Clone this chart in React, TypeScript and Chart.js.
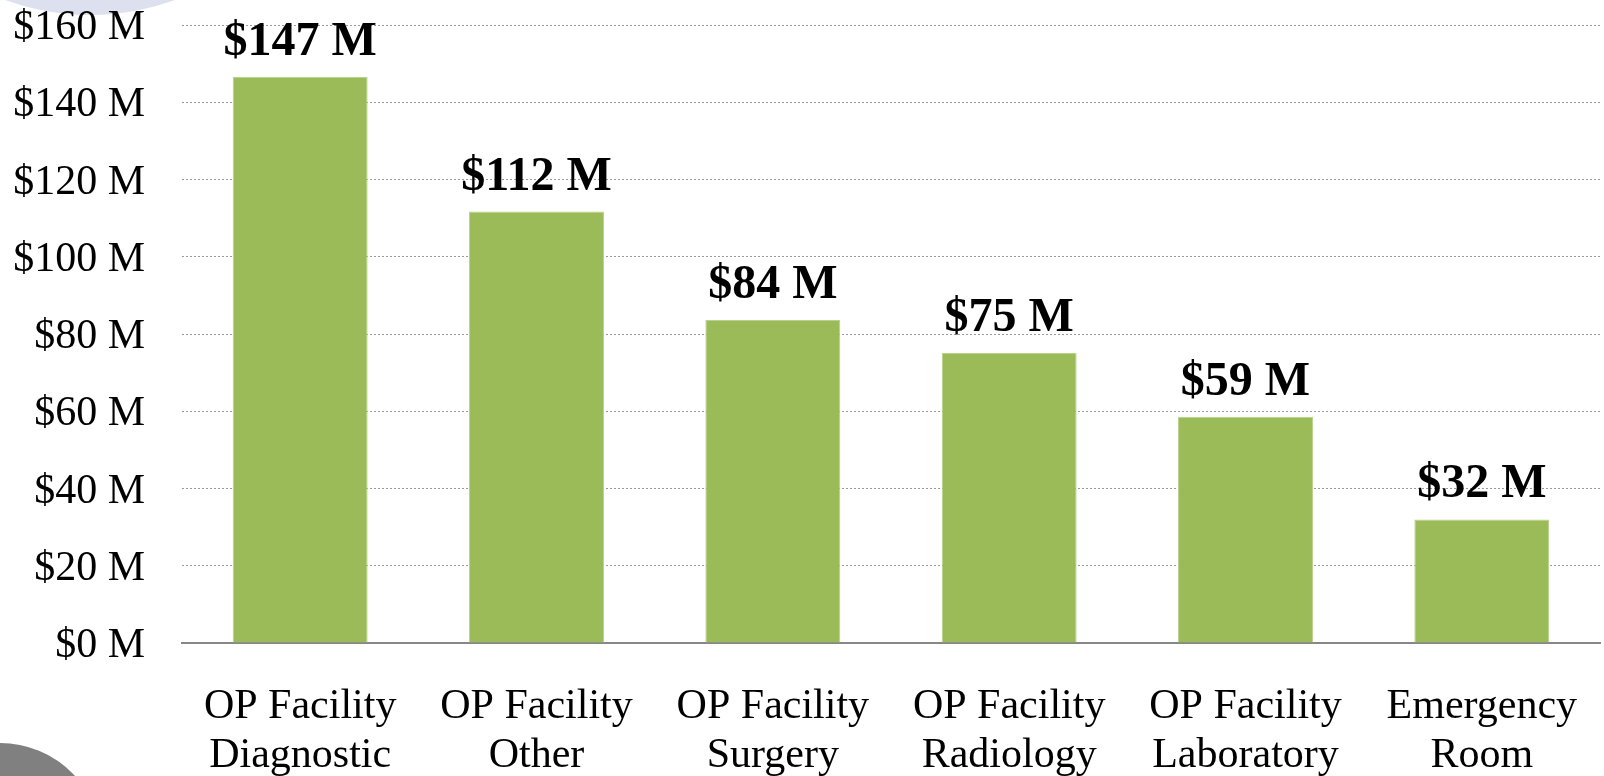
import React, { useEffect, useRef } from "react";
import { Chart, registerables } from "chart.js";

Chart.register(...registerables);

const categories: string[][] = [
  ["OP Facility", "Diagnostic"],
  ["OP Facility", "Other"],
  ["OP Facility", "Surgery"],
  ["OP Facility", "Radiology"],
  ["OP Facility", "Laboratory"],
  ["Emergency", "Room"],
];
const costValues: number[] = [146.6, 111.7, 83.6, 75.1, 58.6, 32.0];
const costLabels: string[] = ["$147 M", "$112 M", "$84 M", "$75 M", "$59 M", "$32 M"];
const yTickMax = 160;
const yTickStep = 20;

const SERIF = '"Liberation Serif", "Times New Roman", serif';

const valueLabelPlugin = {
  id: "valueLabels",
  afterDatasetsDraw(chart: any) {
    const ctx = chart.ctx;
    const meta = chart.getDatasetMeta(0);
    ctx.save();
    ctx.font = `bold 48px ${SERIF}`;
    ctx.fillStyle = "#000000";
    ctx.textAlign = "center";
    ctx.textBaseline = "alphabetic";
    meta.data.forEach((el: any, i: number) => {
      ctx.fillText(costLabels[i], el.x, el.y - 22);
    });
    ctx.restore();
  },
};

export default function App() {
  const canvasRef = useRef<HTMLCanvasElement | null>(null);

  useEffect(() => {
    if (!canvasRef.current) return;
    const chart = new Chart(canvasRef.current, {
      type: "bar",
      data: {
        labels: categories,
        datasets: [
          {
            data: costValues,
            backgroundColor: "#9BBB59",
            borderColor: "#b9d18a",
            borderWidth: 1,
            borderSkipped: "bottom",
            barPercentage: 0.571,
            categoryPercentage: 1,
          },
        ],
      },
      options: {
        animation: false,
        responsive: false,
        maintainAspectRatio: false,
        layout: { padding: { top: 25, right: 4, bottom: 0, left: 0 } },
        plugins: {
          legend: { display: false },
          tooltip: { enabled: false },
        },
        scales: {
          x: {
            grid: { display: false, drawTicks: false },
            border: { display: true, color: "#878787", width: 2 },
            ticks: {
              color: "#000000",
              font: { family: SERIF, size: 42, lineHeight: 49 / 42 },
              padding: 39,
              maxRotation: 0,
              autoSkip: false,
            },
            afterFit(scale: any) {
              scale.height = 133;
              scale.paddingLeft = 0;
              scale.paddingRight = 0;
            },
          },
          y: {
            min: 0,
            max: yTickMax,
            grid: {
              color: "#9a9a9a",
              lineWidth: 1,
              drawTicks: false,
            },
            border: { display: false, dash: [2, 2] },
            ticks: {
              stepSize: yTickStep,
              color: "#000000",
              font: { family: SERIF, size: 42, lineHeight: 1 },
              padding: 37,
              labelOffset: 3,
              callback: (v: any) => `$${v} M`,
            },
            afterFit(scale: any) {
              scale.width = 182;
              scale.paddingTop = 0;
              scale.paddingBottom = 0;
            },
          },
        },
      },
      plugins: [
        valueLabelPlugin,
        {
          id: "dashGrid",
          beforeDraw(chart: any) {
            const y = chart.scales.y;
            if (y && y.options && y.options.grid) {
              y.options.grid.borderDash = [2, 2];
            }
          },
        },
      ],
    } as any);
    return () => chart.destroy();
  }, []);

  return (
    <div
      style={{
        position: "fixed",
        left: 0,
        top: 0,
        width: 1604,
        height: 776,
        overflow: "hidden",
        background: "#ffffff",
      }}
    >
      <div
        style={{
          position: "absolute",
          left: 90 - 248,
          top: -233 - 248,
          width: 496,
          height: 496,
          borderRadius: "50%",
          background: "#dde0ee",
        }}
      />
      <div
        style={{
          position: "absolute",
          left: -102,
          top: 743,
          width: 204,
          height: 204,
          borderRadius: "50%",
          background: "#808080",
        }}
      />
      <canvas
        ref={canvasRef}
        width={1604}
        height={776}
        style={{ position: "absolute", left: 0, top: 0, display: "block" }}
      />
    </div>
  );
}
